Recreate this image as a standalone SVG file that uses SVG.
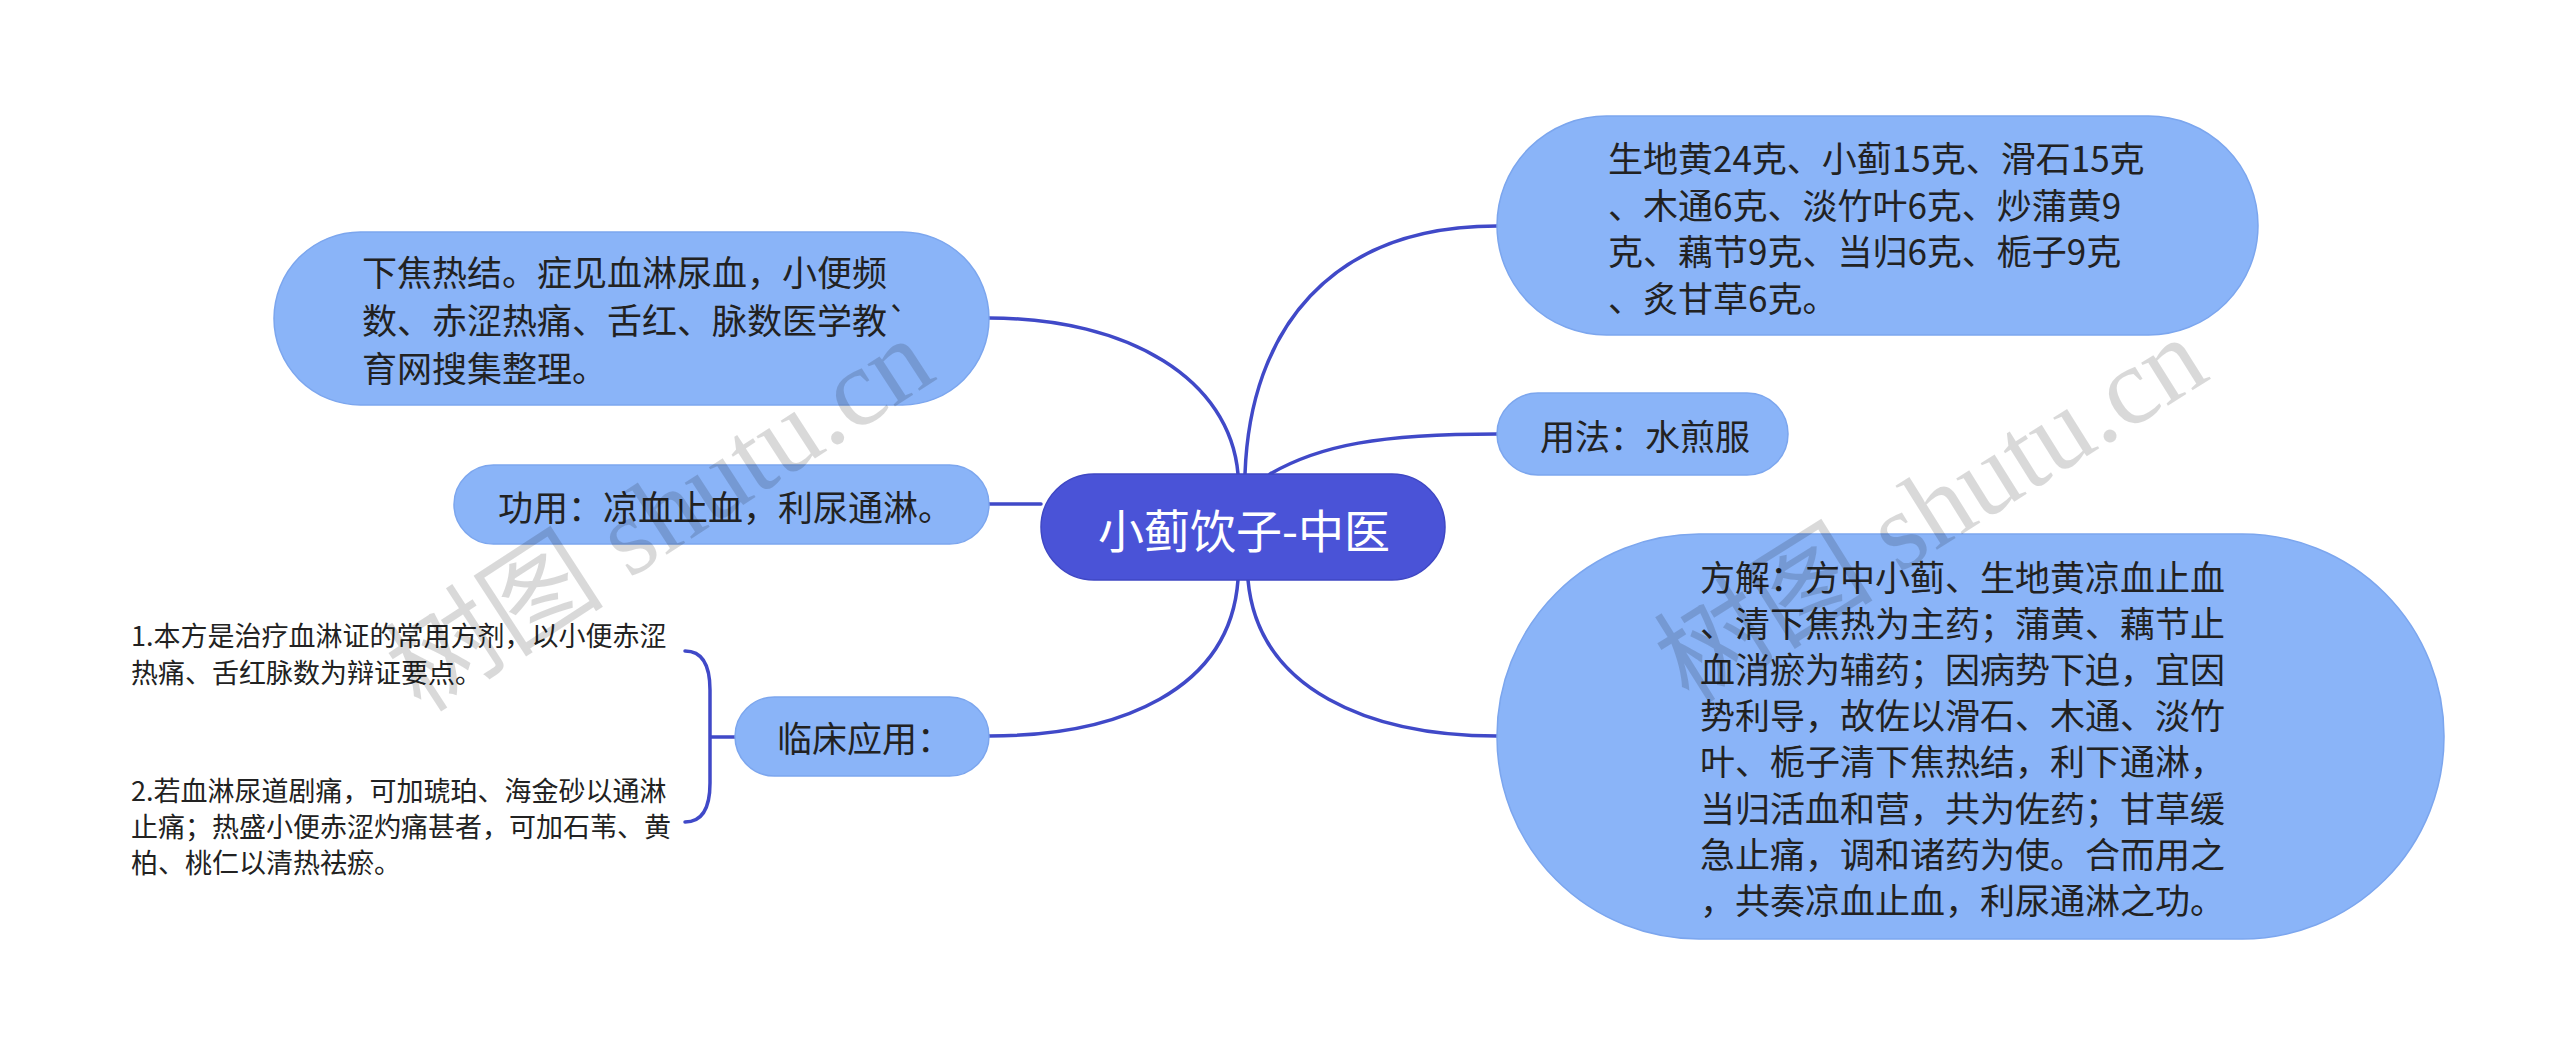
<svg xmlns="http://www.w3.org/2000/svg" width="2560" height="1055" viewBox="0 0 2560 1055">
<style>
.node{fill:#8AB4F8;stroke:#7CA6EE;stroke-width:1.5}
.root{fill:#4A53D7;stroke:#3F47C4;stroke-width:1.5}
.t{font-family:"Noto Sans CJK SC","Noto Sans",sans-serif;font-size:35px;fill:#222;dominant-baseline:central}
.leaf{font-family:"Noto Sans CJK SC","Noto Sans",sans-serif;font-size:27px;fill:#222;dominant-baseline:central}
.rt{font-family:"Noto Sans CJK SC","Noto Sans",sans-serif;font-size:46px;fill:#fff;dominant-baseline:central;text-anchor:middle}
.edge{fill:none;stroke:#4049C8;stroke-width:3.5;stroke-linecap:round}
.wm{font-family:"Liberation Serif","Noto Sans CJK SC",serif;font-size:110px;fill:#000;fill-opacity:0.15;text-anchor:middle;dominant-baseline:central}
</style>
<rect width="2560" height="1055" fill="#fff"/>
<g id="connectors">
<path class="edge" d="M1238,474 C1230,380 1130,318 989,318"/>
<path class="edge" d="M1245,474 C1250,330 1330,226 1497,226"/>
<path class="edge" d="M1270,474 C1320,445 1380,434 1497,434"/>
<path class="edge" d="M989,504 L1041,504"/>
<path class="edge" d="M1238,580 C1230,690 1120,736 989,736"/>
<path class="edge" d="M1248,580 C1258,690 1370,736 1497,736"/>
<path class="edge" d="M685,651 Q710,651 710,690 L710,783 Q710,822 685,822 M710,737 L735,737"/>
</g>
<g id="root">
<rect class="root" x="1041" y="474" width="404" height="106" rx="53"/>
<text class="rt" x="1244" y="528">小蓟饮子-中医</text>
</g>
<g id="node-a">
<rect class="node" x="274" y="232" width="715" height="173" rx="86.5"/>
<text class="t" x="362" y="270">下焦热结。症见血淋尿血，小便频</text>
<text class="t" x="362" y="318">数、赤涩热痛、舌红、脉数医学教`</text>
<text class="t" x="362" y="366">育网搜集整理。</text>
</g>
<g id="node-b">
<rect class="node" x="454" y="465" width="535" height="79" rx="39.5"/>
<text class="t" x="498" y="505">功用：凉血止血，利尿通淋。</text>
</g>
<g id="node-c">
<rect class="node" x="735" y="697" width="254" height="79" rx="39.5"/>
<text class="t" x="777" y="736">临床应用：</text>
</g>
<g id="leaf-1">
<text class="leaf" x="131" y="634">1.本方是治疗血淋证的常用方剂，以小便赤涩</text>
<text class="leaf" x="131" y="671">热痛、舌红脉数为辩证要点。</text>
</g>
<g id="leaf-2">
<text class="leaf" x="131" y="789">2.若血淋尿道剧痛，可加琥珀、海金砂以通淋</text>
<text class="leaf" x="131" y="825">止痛；热盛小便赤涩灼痛甚者，可加石苇、黄</text>
<text class="leaf" x="131" y="861">柏、桃仁以清热祛瘀。</text>
</g>
<g id="node-d">
<rect class="node" x="1497" y="116" width="761" height="219" rx="109.5"/>
<text class="t" x="1608" y="156">生地黄24克、小蓟15克、滑石15克</text>
<text class="t" x="1608" y="203">、木通6克、淡竹叶6克、炒蒲黄9</text>
<text class="t" x="1608" y="249">克、藕节9克、当归6克、栀子9克</text>
<text class="t" x="1608" y="296">、炙甘草6克。</text>
</g>
<g id="node-e">
<rect class="node" x="1497" y="393" width="291" height="82" rx="41"/>
<text class="t" x="1540" y="434">用法：水煎服</text>
</g>
<g id="node-f">
<rect class="node" x="1497" y="534" width="947" height="405" rx="202"/>
<text class="t" x="1700" y="575">方解：方中小蓟、生地黄凉血止血</text>
<text class="t" x="1700" y="621">、清下焦热为主药；蒲黄、藕节止</text>
<text class="t" x="1700" y="667">血消瘀为辅药；因病势下迫，宜因</text>
<text class="t" x="1700" y="713">势利导，故佐以滑石、木通、淡竹</text>
<text class="t" x="1700" y="759">叶、栀子清下焦热结，利下通淋，</text>
<text class="t" x="1700" y="806">当归活血和营，共为佐药；甘草缓</text>
<text class="t" x="1700" y="852">急止痛，调和诸药为使。合而用之</text>
<text class="t" x="1700" y="898">，共奏凉血止血，利尿通淋之功。</text>
</g>
<text class="wm" transform="translate(660,515) rotate(-33)">树图 shutu.cn</text>
<text class="wm" transform="translate(1931,510) rotate(-32)">树图 shutu.cn</text>
</svg>
